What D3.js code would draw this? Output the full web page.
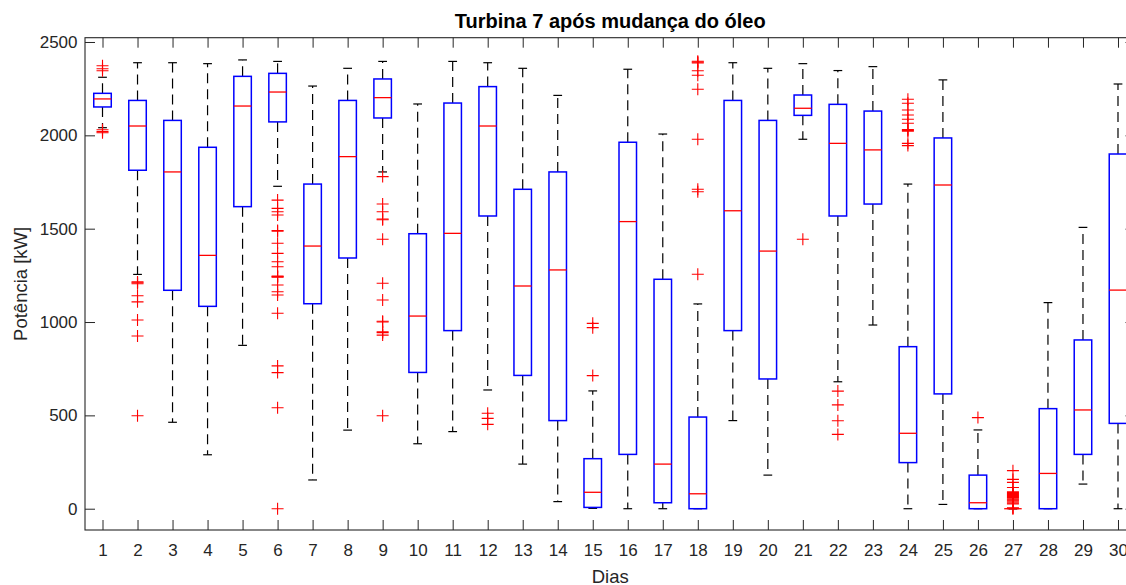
<!DOCTYPE html>
<html><head><meta charset="utf-8">
<script src="https://cdn.jsdelivr.net/npm/d3@7"></script>
<style>body{margin:0;background:#fff} svg{display:block;font-family:"Liberation Sans",Arial,Helvetica,sans-serif}</style>
</head><body>
<svg id="chart" width="1126" height="585"></svg>
<script>
// ---- data ----
const days = [1,2,3,4,5,6,7,8,9,10,11,12,13,14,15,16,17,18,19,20,21,22,23,24,25,26,27,28,29,30];
const whiskerHigh = [2311,2389,2389,2384,2404,2396,2264,2359,2396,2168,2396,2389,2359,2214,631,2354,2007,1097,2389,2359,2384,2347,2368,1739,2297,422,0,1104,1507,2275];
const q3 =          [2225,2187,2080,1936,2316,2332,1739,2187,2302,1473,2173,2261,1711,1804,268,1963,1229,491,2187,2080,2216,2166,2130,868,1986,180,0,536,904,1900];
const medians =     [2195,2050,1804,1357,2157,2232,1407,1886,2202,1032,1475,2050,1193,1279,88,1538,239,80,1596,1380,2145,1957,1922,404,1734,32,0,189,529,1171];
const q1 =          [2152,1813,1170,1084,1618,2072,1098,1343,2093,730,954,1568,714,472,7,291,32,0,954,695,2107,1568,1632,247,615,0,0,0,291,457];
const whiskerLow =  [2041,1255,463,289,875,1727,154,421,1804,348,413,636,239,38,2,0,0,0,472,180,1979,680,984,0,23,0,0,0,132,0];
const outliers = [
  [2373,2357,2346,2030,2020,2014],
  [1215,1210,1205,1141,1108,1011,925,498],
  [], [], [],
  [1653,1609,1591,1573,1490,1486,1422,1368,1323,1296,1246,1243,1240,1198,1162,1145,1047,765,729,541,0],
  [], [],
  [1779,1632,1591,1552,1548,1443,1208,1118,1004,1000,948,943,930,498],
  [], [],
  [511,484,452],
  [], [],
  [993,970,713],
  [], [],
  [2397,2393,2388,2346,2322,2247,1979,1711,1698,1256],
  [], [],
  [1443],
  [630,556,471,398],
  [],
  [2193,2172,2136,2109,2086,2065,2031,2026,2022,1957,1945],
  [],
  [488],
  [204,157,141,114,91,86,81,76,71,66,61,56,51,46,41,36,31,26,5,2,0],
  [], [], []
];
const yTicks = [0,500,1000,1500,2000,2500];
const titleText = "Turbina 7 após mudança do óleo";
const xLabel = "Dias";
const yLabel = "Potência [kW]";

// ---- layout ----
const L = 85, R = 1135.5, T = 37.7, B = 530;
const axisColor = "#262626";
const svg = d3.select("#chart");
const x = d3.scaleLinear().domain([0.5, 30.5]).range([L, R]);
const y = d3.scaleLinear().domain([-114, 2523]).range([B, T]);

// axes
const fontTick = "17px";
const gx = svg.append("g").attr("transform", `translate(0,${B})`)
  .call(d3.axisBottom(x).tickValues(days).tickFormat(d3.format("d")).tickSizeInner(-10).tickSizeOuter(0).tickPadding(14.4));
const gxTop = svg.append("g").attr("transform", `translate(0,${T})`)
  .call(d3.axisTop(x).tickValues(days).tickFormat("").tickSizeInner(-10).tickSizeOuter(0));
const gy = svg.append("g").attr("transform", `translate(${L},0)`)
  .call(d3.axisLeft(y).tickValues(yTicks).tickFormat(d3.format("d")).tickSizeInner(-10).tickSizeOuter(0).tickPadding(7.5));
const gyR = svg.append("g").attr("transform", `translate(${R},0)`)
  .call(d3.axisRight(y).tickValues(yTicks).tickFormat("").tickSizeInner(-10).tickSizeOuter(0));
[gx, gxTop, gy, gyR].forEach(g => {
  g.select(".domain").remove();
  g.selectAll(".tick line").attr("stroke", axisColor).attr("stroke-width", 1);
  g.selectAll(".tick text").attr("fill", axisColor).style("font-size", fontTick)
    .style("font-family", '"Liberation Sans",Arial,sans-serif');
});
svg.append("rect").attr("x", L).attr("y", T).attr("width", R - L).attr("height", B - T)
  .attr("fill", "none").attr("stroke", axisColor).attr("stroke-width", 1.1);

// boxes
const plot = svg.append("g");
days.forEach((d, i) => {
  const cx = x(d);
  const bx0 = x(d - 0.25), bx1 = x(d + 0.25);
  const cx0 = x(d - 0.125), cx1 = x(d + 0.125);
  const g = plot.append("g");
  // whiskers
  g.append("line").attr("x1", cx).attr("x2", cx).attr("y1", y(q3[i])).attr("y2", y(whiskerHigh[i]))
    .attr("stroke", "#000").attr("stroke-width", 1.2).attr("stroke-dasharray", "10,6");
  g.append("line").attr("x1", cx).attr("x2", cx).attr("y1", y(q1[i])).attr("y2", y(whiskerLow[i]))
    .attr("stroke", "#000").attr("stroke-width", 1.2).attr("stroke-dasharray", "10,6");
  // caps
  [whiskerHigh[i], whiskerLow[i]].forEach(v => {
    g.append("line").attr("x1", cx0).attr("x2", cx1).attr("y1", y(v)).attr("y2", y(v))
      .attr("stroke", "#000").attr("stroke-width", 1.2);
  });
  // box
  g.append("rect").attr("x", bx0).attr("y", y(q3[i])).attr("width", bx1 - bx0)
    .attr("height", Math.max(0, y(q1[i]) - y(q3[i])))
    .attr("fill", "none").attr("stroke", "#0000ff").attr("stroke-width", 1.5);
  // median
  g.append("line").attr("x1", bx0).attr("x2", bx1).attr("y1", y(medians[i])).attr("y2", y(medians[i]))
    .attr("stroke", "#ff0000").attr("stroke-width", 1.3);
  // outliers
  outliers[i].forEach(v => {
    const oy = y(v);
    g.append("path").attr("d", `M${cx - 6},${oy}H${cx + 6}M${cx},${oy - 6}V${oy + 6}`)
      .attr("stroke", "#ff0000").attr("stroke-width", 1.1).attr("fill", "none");
  });
});

// labels
svg.append("text").attr("x", (L + R) / 2).attr("y", 28.3).attr("text-anchor", "middle")
  .style("font-size", "20px").style("font-weight", "bold").attr("fill", "#000").text(titleText);
svg.append("text").attr("x", (L + R) / 2).attr("y", 582.5).attr("text-anchor", "middle")
  .style("font-size", "18.5px").attr("fill", axisColor).text(xLabel);
svg.append("text").attr("transform", `translate(27,${(T + B) / 2}) rotate(-90)`).attr("text-anchor", "middle")
  .style("font-size", "18.5px").attr("fill", axisColor).text(yLabel);
</script>
</body></html>
